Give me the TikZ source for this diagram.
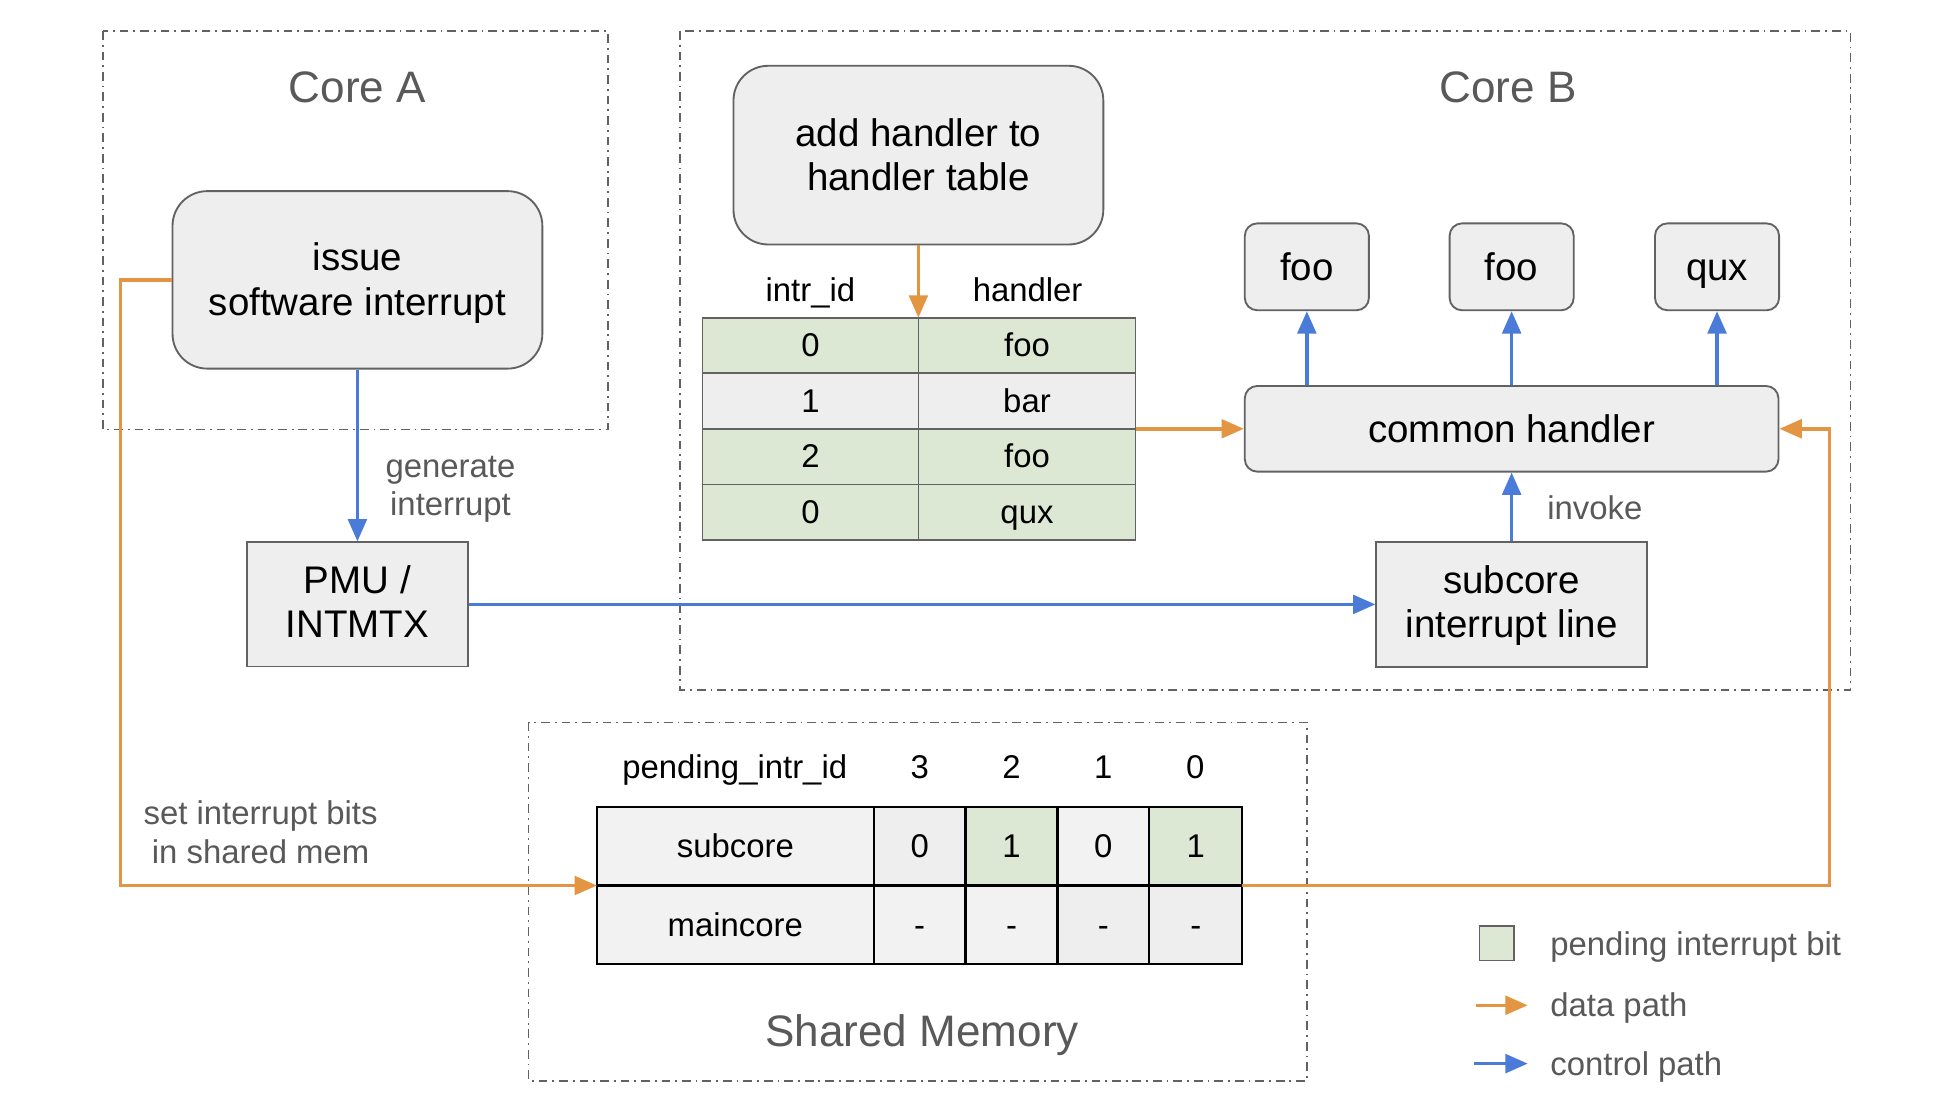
\documentclass[tikz,border=0pt]{standalone}
\usepackage{fontspec}
\setmainfont{Liberation Sans}
\usetikzlibrary{arrows.meta}
\definecolor{orng}{HTML}{E39541}
\definecolor{blu}{HTML}{4A7BD8}
\definecolor{boxfill}{HTML}{EEEEEE}
\definecolor{cellfill}{HTML}{F2F2F2}
\definecolor{grn}{HTML}{DCE8D3}
\definecolor{edge}{HTML}{626262}
\definecolor{txtgray}{HTML}{595959}
\newcommand{\topstrut}{\rule{0pt}{0.905em}}
\newcommand{\botstrut}{\rule[-0.212em]{0pt}{0pt}}
\newcommand{\twolines}[3][3pt]{\raisebox{-#1}[\height][\depth]{\begin{tabular}{@{}c@{}}#2\\#3\end{tabular}}}
\begin{document}
\begin{tikzpicture}[x=1pt,y=-1pt,
  gtext/.style={execute at begin node=\topstrut, execute at end node=\botstrut},
  region/.style={draw=edge, line width=1.2pt, dash pattern=on 7pt off 4pt on 1.5pt off 4pt},
  bigfont/.style={font=\fontsize{31}{35.7}\selectfont},
  midfont/.style={font=\fontsize{26.5}{31}\selectfont},
  rbig/.style={draw=edge, fill=boxfill, line width=1.5pt, rounded corners=28pt, inner sep=0pt, bigfont},
  rsmall/.style={gtext, draw=edge, fill=boxfill, line width=1.5pt, rounded corners=10pt, inner sep=0pt, bigfont},
  sqbox/.style={draw=edge, fill=boxfill, line width=1.5pt, inner sep=0pt, bigfont},
  hcell/.style={gtext, draw=edge, line width=1.3pt, minimum height=44.75pt, inner sep=0pt, outer sep=0pt, anchor=north west, midfont},
  scell/.style={gtext, draw=black, line width=1.8pt, minimum height=63.5pt, inner sep=0pt, outer sep=0pt, anchor=north west, midfont},
  data/.style={draw=orng, line width=2.8pt, -{Triangle[length=18pt,width=15pt]}},
  ctrl/.style={draw=blu, line width=2.8pt, -{Triangle[length=18pt,width=15pt]}},
  title/.style={gtext, text=txtgray, inner sep=0pt, font=\fontsize{35.5}{41}\selectfont},
  lbl/.style={gtext, text=txtgray, inner sep=0pt, midfont},
  lbl2/.style={text=txtgray, inner sep=0pt, midfont},
  plain/.style={gtext, inner sep=0pt, midfont}
]
\useasboundingbox[fill=white] (0,0) rectangle (1568,894);

% regions
\draw[region] (83,25) rectangle (490,346);
\draw[region] (548,25) rectangle (1491,556);
\draw[region] (426,582) rectangle (1053,871);
\node[title] (ta) at (288,70) {Core A};
\node[title] (tb) at (1215,70) {Core B};
\node[title] (tm) at (743,831) {Shared Memory};

% boxes
\node[rbig, minimum width=298pt, minimum height=143pt] (issue) at (288,225.5) {\twolines[3.5pt]{issue}{software interrupt}};
\node[rbig, minimum width=298pt, minimum height=144pt] (addh) at (740,125) {\twolines[3.5pt]{add handler to}{handler table}};
\node[rsmall, minimum width=100pt, minimum height=70pt] (f1) at (1053,215) {foo};
\node[rsmall, minimum width=100pt, minimum height=70pt] (f2) at (1218,215) {foo};
\node[rsmall, minimum width=100pt, minimum height=70pt] (f3) at (1383.5,215) {qux};
\node[rsmall, minimum width=430pt, minimum height=69pt] (common) at (1218,345.5) {common handler};
\node[sqbox, minimum width=218pt, minimum height=101pt] (sub) at (1218,487) {\twolines[2pt]{subcore}{interrupt line}};
\node[sqbox, minimum width=178pt, minimum height=100pt] (pmu) at (288,487) {\twolines[2pt]{PMU /}{INTMTX}};

% handler table
\node[plain] (hid) at (653,234) {intr\_id};
\node[plain] (hhd) at (828,234) {handler};
\node[hcell, fill=grn, minimum width=174pt] (h00) at (566,256) {0};
\node[hcell, fill=grn, minimum width=175pt] (h01) at (740,256) {foo};
\node[hcell, fill=boxfill, minimum width=174pt] (h10) at (566,300.75) {1};
\node[hcell, fill=boxfill, minimum width=175pt] (h11) at (740,300.75) {bar};
\node[hcell, fill=grn, minimum width=174pt] (h20) at (566,345.5) {2};
\node[hcell, fill=grn, minimum width=175pt] (h21) at (740,345.5) {foo};
\node[hcell, fill=grn, minimum width=174pt] (h30) at (566,390.25) {0};
\node[hcell, fill=grn, minimum width=175pt] (h31) at (740,390.25) {qux};

% shared memory table
\node[plain] (pid) at (592,618) {pending\_intr\_id};
\node[plain] (c3) at (741,618) {3};
\node[plain] (c2) at (815,618) {2};
\node[plain] (c1) at (889,618) {1};
\node[plain] (c0) at (963,618) {0};
\node[scell, fill=cellfill, minimum width=223pt] (s00) at (481,650) {subcore};
\node[scell, fill=boxfill, minimum width=74pt] (s01) at (704,650) {0};
\node[scell, fill=grn, minimum width=74pt] (s02) at (778,650) {1};
\node[scell, fill=cellfill, minimum width=74pt] (s03) at (852,650) {0};
\node[scell, fill=grn, minimum width=75pt] (s04) at (926,650) {1};
\node[scell, fill=cellfill, minimum width=223pt] (s10) at (481,713.5) {maincore};
\node[scell, fill=cellfill, minimum width=74pt] (s11) at (704,713.5) {-};
\node[scell, fill=cellfill, minimum width=74pt] (s12) at (778,713.5) {-};
\node[scell, fill=boxfill, minimum width=74pt] (s13) at (852,713.5) {-};
\node[scell, fill=boxfill, minimum width=75pt] (s14) at (926,713.5) {-};

% labels
\node[lbl2] (lg) at (363,391.5) {\twolines[2.5pt]{generate}{interrupt}};
\node[lbl] (li) at (1285,409) {invoke};
\node[lbl2] (ls) at (210,672) {\twolines[2pt]{set interrupt bits}{in shared mem}};

% control connectors
\draw[ctrl] (issue.south) -- (pmu.north);
\draw[ctrl] (pmu.east) -- (sub.west);
\draw[ctrl] (sub.north) -- (common.south);
\draw[ctrl] (f1.south |- common.north) -- (f1.south);
\draw[ctrl] (f2.south |- common.north) -- (f2.south);
\draw[ctrl] (f3.south |- common.north) -- (f3.south);

% data connectors
\coordinate (oLb) at (97,713.5);
\coordinate (oRt) at (1474,345.5);
\draw[data] (addh.south) -- (h00.north east);
\draw[data] (h11.south east) -- (common.west);
\draw[data] (issue.west) -| (oLb) -- (s00.south west);
\draw[data] (s04.south east) -| (oRt) -- (common.east);

% legend
\node[draw=edge, fill=grn, line width=1.3pt, minimum width=28pt, minimum height=28pt, inner sep=0pt] (lgsq) at (1206,760) {};
\node[lbl, anchor=west] (lt1) at (1249,761) {pending interrupt bit};
\coordinate (da1) at (1189,810);
\coordinate (da2) at (1231,810);
\draw[data] (da1) -- (da2);
\node[lbl, anchor=west] (lt2) at (1249,810) {data path};
\coordinate (ca1) at (1188,857);
\coordinate (ca2) at (1231,857);
\draw[ctrl] (ca1) -- (ca2);
\node[lbl, anchor=west] (lt3) at (1249,857) {control path};
\end{tikzpicture}
\end{document}
